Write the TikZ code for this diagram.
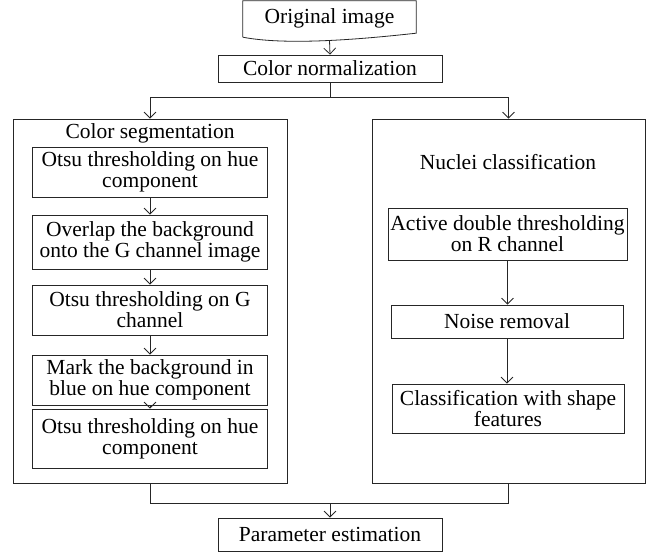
\documentclass[tikz,border=0pt]{standalone}
\usepackage{fontspec}
\setmainfont{Liberation Serif}
\usetikzlibrary{arrows.meta,positioning,calc}

\begin{document}
\begin{tikzpicture}[
x=1pt, y=-1pt,
every node/.style={font=\fontsize{21.5}{21}\selectfont},
stepbox/.style={rectangle, draw=black!85, line width=0.8pt, align=center, inner sep=1pt},
groupbox/.style={rectangle, draw=black!85, line width=0.8pt, minimum height=364pt},
link/.style={draw=black!85, line width=0.8pt},
arrow/.style={link, -{Straight Barb[length=6pt,width=12pt]}},
]
\useasboundingbox (0,0) rectangle (647,552);

%Nodes
\node (origimg) at (329.5,18) [minimum width=173pt, minimum height=34pt, inner sep=0pt] {Original image};
\node[stepbox] (colnorm) at (330,68.5) [minimum width=224pt, minimum height=27pt] {Color normalization};

\node[groupbox] (segbox) at (150,301) [minimum width=274pt] {};
\node[groupbox] (nucbox) at (508.5,301) [minimum width=273pt] {};
\node (segtitle) at (150,133) {Color segmentation};
\node (nuctitle) at (508,162) {Nuclei classification};

\node[stepbox] (seg1) at (150,172) [minimum width=235pt, minimum height=50pt] {Otsu thresholding on hue\\component};
\node[stepbox] (seg2) at (150,242) [minimum width=235pt, minimum height=54pt] {Overlap the background\\onto the G channel image};
\node[stepbox] (seg3) at (150,310) [minimum width=235pt, minimum height=50pt] {Otsu thresholding on G\\channel};
\node[stepbox] (seg4) at (150,380) [minimum width=235pt, minimum height=50pt] {Mark the background in\\blue on hue component};
\node[stepbox] (seg5) at (150,438.5) [minimum width=235pt, minimum height=59pt] {Otsu thresholding on hue\\component};

\node[stepbox] (nuc1) at (507.5,234) [minimum width=239pt, minimum height=52pt] {Active double thresholding\\on R channel};
\node[stepbox] (nuc2) at (507,321.5) [minimum width=232pt, minimum height=33pt] {Noise removal};
\node[stepbox] (nuc3) at (508,408.5) [minimum width=232pt, minimum height=49pt] {Classification with shape\\features};

\node[stepbox] (param) at (330,534.5) [minimum width=224pt, minimum height=33pt] {Parameter estimation};

%Document outline
\draw[link] ($(origimg.south west)+(0,2)$) -- (origimg.north west) -- (origimg.north east) -- ($(origimg.south east)+(0,-2)$)
  .. controls +(-46,5) and +(47,9) .. ($(origimg.south west)+(0,2)$);

%Lines
\coordinate (origbottom) at ($(origimg.south)+(0,5)$);
\coordinate (split) at (330,97);
\coordinate (merge) at (330,503);
\draw[arrow] (origbottom) -- (colnorm.north);
\draw[link] (colnorm.south) -- (split);
\draw[arrow] (split) -| (segbox.north);
\draw[arrow] (split) -| (nucbox.north);
\foreach \a/\b in {seg1/seg2,seg2/seg3,seg3/seg4,seg4/seg5,nuc1/nuc2,nuc2/nuc3}
  \draw[arrow] (\a.south) -- (\a.south |- \b.north);
\draw[link] (segbox.south) |- (merge) -| (nucbox.south);
\draw[arrow] (merge) -- (param.north);
\end{tikzpicture}
\end{document}
